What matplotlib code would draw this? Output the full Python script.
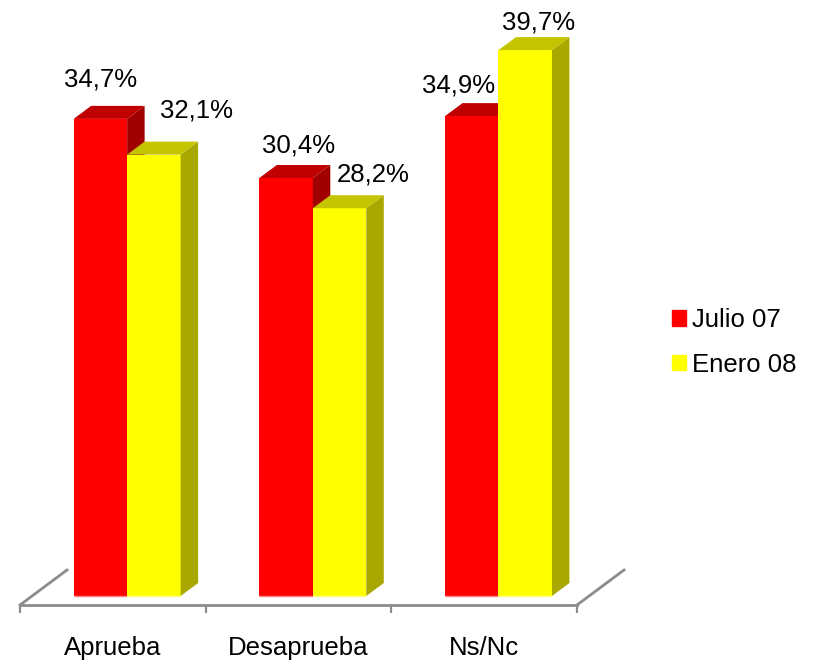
import numpy as np
import matplotlib
matplotlib.use('Agg')
import matplotlib.pyplot as plt
from matplotlib.patches import Patch

categories = ['Aprueba', 'Desaprueba', 'Ns/Nc']
julio = [34.7, 30.4, 34.9]
enero = [32.1, 28.2, 39.7]

W, H = 816, 660
# pixel sizes
left, right, bottom = 20, 577, 605
px_unit = 13.75
zero_y = 596
dx = 17.5 / ((right - left) / 3)
dy = 13 / px_unit
bar_w = 0.288
shift = 0.577

plt.rcParams['font.family'] = ['Liberation Sans', 'DejaVu Sans']
fig = plt.figure(figsize=(W / 100, H / 100), dpi=100)
ax = fig.add_axes([left / W, (H - bottom) / H, (right - left) / W, bottom / H])
ax.set_xlim(0, 3)
ax.set_ylim(-(bottom - zero_y) / px_unit, zero_y / px_unit)


def bar3d(x0, h, front, top, side, pale):
    ax.bar(x0, h, bar_w, align='edge', color=front, linewidth=0, zorder=3)
    x1 = x0 + bar_w
    ax.fill([x1, x1 + dx, x1 + dx, x1], [0, dy, h + dy, h], color=side, lw=0, zorder=3)
    ax.fill([x0, x0 + dx, x1 + dx, x1], [h, h + dy, h + dy, h], color=top, lw=0, zorder=3)
    ax.plot([x0, x1], [0, 0], color=pale, lw=1, solid_capstyle='butt', zorder=3)


x = np.arange(3) + shift
for i in range(3):
    bar3d(x[i] - bar_w, julio[i], '#ff0000', '#c00000', '#a00000', '#ff8080')
    bar3d(x[i], enero[i], '#ffff00', '#c4c400', '#a8a800', '#ffff80')

# data labels, offsets in pixels from the bar top centre
off_j = [(0, 39), (13, 33), (-13, 31)]
off_e = [(43, 44), (34, 34), (13, 28)]
for i in range(3):
    for xc, v, o in [(x[i] - bar_w / 2, julio[i], off_j[i]), (x[i] + bar_w / 2, enero[i], off_e[i])]:
        ax.annotate(f'{v:.1f}%'.replace('.', ','), (xc, v), xytext=o, textcoords='offset pixels',
                    ha='center', va='center', fontsize=18.5, color='black', zorder=5)

for s in ['top', 'left', 'right']:
    ax.spines[s].set_visible(False)
ax.spines['bottom'].set_color('#8c8c8c')
ax.spines['bottom'].set_linewidth(2)
ax.set_yticks([])
ax.set_xticks([0, 1, 2, 3])
ax.set_xticklabels([])
ax.tick_params(axis='x', which='major', color='#8c8c8c', width=1.6, length=6)
ax.set_xticks(np.arange(3) + 0.5, categories, minor=True)
ax.tick_params(axis='x', which='minor', length=0, labelsize=18.5, pad=22.5)

# slanted floor edges
ybase = ax.get_ylim()[0]
wall_dx = 47 / ((right - left) / 3)
wall_dy = 35 / px_unit
for x0 in [0, 3]:
    ax.plot([x0, x0 + wall_dx], [ybase, ybase + wall_dy], color='#8c8c8c', lw=2,
            clip_on=False, zorder=2)

handles = [Patch(color='#ff0000', label='Julio 07'), Patch(color='#ffff00', label='Enero 08')]
fig.legend(handles=handles, loc='center left', bbox_to_anchor=(649 / W, 1 - 342.5 / H), frameon=False,
           fontsize=18.5, handlelength=0.55, handleheight=0.55, handletextpad=0.23, labelspacing=0.8)

fig.savefig('out.png', dpi=100)
